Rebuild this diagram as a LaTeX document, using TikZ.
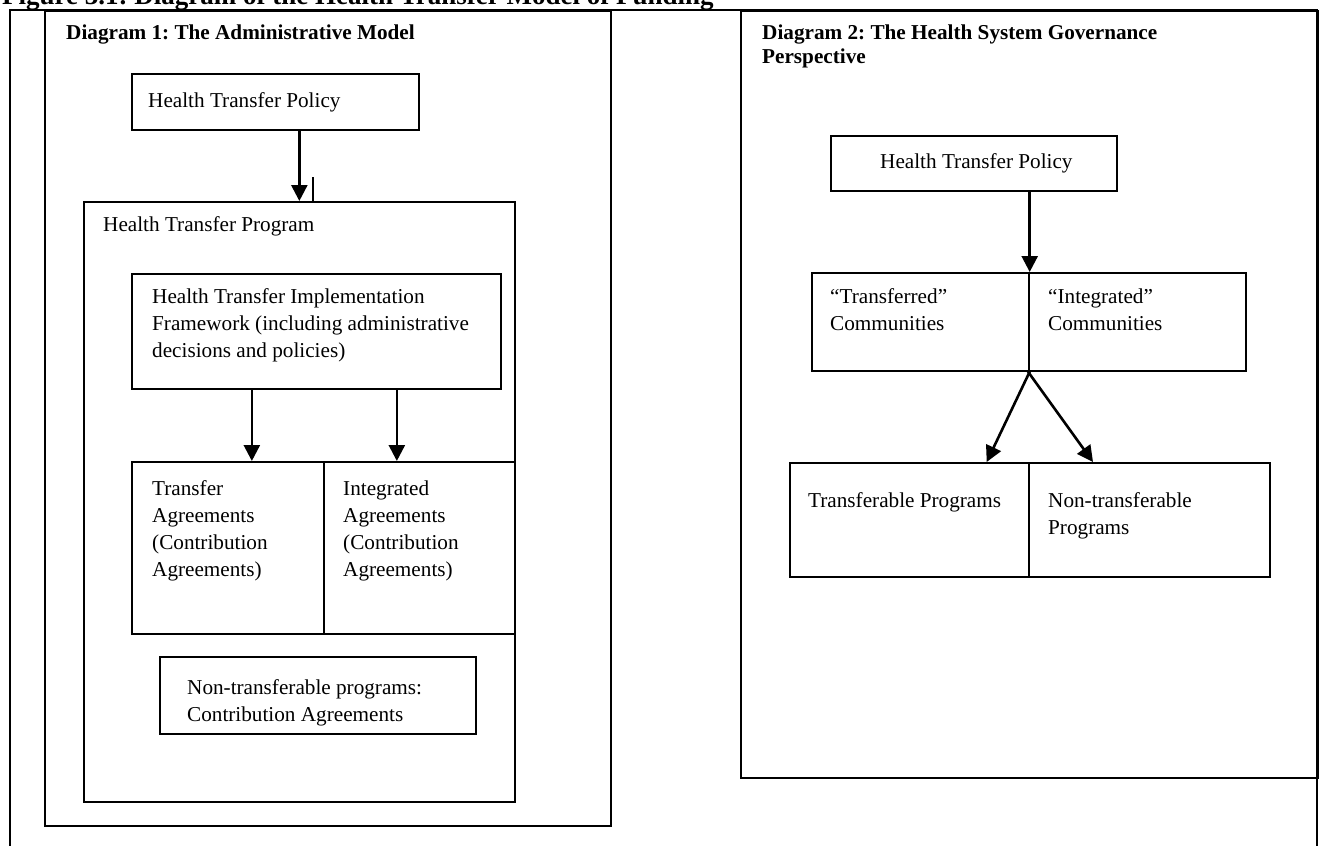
\documentclass[tikz,border=0pt]{standalone}
\usepackage{fontspec}
\setmainfont{Liberation Serif}
\usetikzlibrary{arrows.meta,positioning}
\frenchspacing
\newcommand\txtsize{\fontsize{21.2}{27}\selectfont}
\newcommand\headsize{\fontsize{21.2}{24}\selectfont\bfseries}
\newcommand\titlesize{\fontsize{27}{32}\selectfont\bfseries}

\begin{document}
\begin{tikzpicture}[x=1pt,y=-1pt,
  frame/.style={line width=1.1pt},
  panel/.style={draw,line width=2pt,anchor=north west,inner sep=0pt},
  box/.style={draw,line width=1.7pt,anchor=north west,inner sep=0pt},
  txt/.style={font=\txtsize,align=left,inner sep=0pt,anchor=north west},
  head/.style={font=\headsize,align=left,inner sep=0pt,anchor=north west},
  arr/.style={-{Triangle[length=16pt,width=16pt]},line width=2.6pt}]
  \useasboundingbox (0,0) rectangle (1323,846);
  \fill[white] (0,0) rectangle (1323,846);
  \node[font=\titlesize,inner sep=0pt,anchor=base west] (title) at (2,4)
    {Figure 3.1: Diagram of the Health Transfer Model of Funding};
  % table frame
  \draw[frame] (10,870) -- (10,10) -- (1317,10) -- (1317,870);

  % Diagram 1
  \node[panel,minimum width=566pt,minimum height=815pt] (panelA) at (44,10) {};
  \node[head] (headA) at (66,24.5) {Diagram 1: The Administrative Model};
  \node[box,minimum width=287pt,minimum height=56pt] (policyA) at (131,73) {};
  \node[txt] (policyAtxt) at (148,92.3) {Health Transfer Policy};
  \node[box,minimum width=431pt,minimum height=600pt] (program) at (83,201) {};
  \node[txt] (programtxt) at (103,216.8) {Health Transfer Program};
  \node[box,minimum width=369pt,minimum height=115pt] (framework) at (131,273) {};
  \node[txt] (frameworktxt) at (152,288.3)
    {Health Transfer Implementation\\Framework (including administrative\\decisions and policies)};
  \node[box,minimum width=192pt,minimum height=172pt] (transferA) at (131,461) {};
  \node[box,minimum width=191pt,minimum height=172pt] (integratedA) at (323,461) {};
  \node[txt] (transferAtxt) at (152,480.3) {Transfer\\Agreements\\(Contribution\\Agreements)};
  \node[txt] (integratedAtxt) at (343,480.3) {Integrated\\Agreements\\(Contribution\\Agreements)};
  \node[box,minimum width=316pt,minimum height=77pt] (nontrans) at (159,656) {};
  \node[txt] (nontranstxt) at (187,679.3) {Non-transferable programs:\\Contribution Agreements};
  \coordinate (stub) at (313,177);

  \draw[arr] (policyA.south -| program.north) -- (program.north);
  \draw[line width=2pt] (stub) -- (stub |- program.north);
  \draw[arr] ([xshift=-64.5pt]framework.south) -- ([xshift=-64.5pt]framework.south |- transferA.north);
  \draw[arr] ([xshift=80.5pt]framework.south) -- ([xshift=80.5pt]framework.south |- integratedA.north);

  % Diagram 2
  \node[panel,minimum width=577pt,minimum height=767pt] (panelB) at (740,10) {};
  \node[head] (headB) at (762,24.5) {Diagram 2: The Health System Governance\\Perspective};
  \node[box,minimum width=286pt,minimum height=55pt] (policyB) at (830,135) {};
  \node[txt] (policyBtxt) at (880,153.3) {Health Transfer Policy};
  \node[box,minimum width=217pt,minimum height=98pt] (transferredC) at (811,272) {};
  \node[box,minimum width=217pt,minimum height=98pt] (integratedC) at (1028,272) {};
  \node[txt] (transferredCtxt) at (830,288.3) {“Transferred”\\Communities};
  \node[txt] (integratedCtxt) at (1048,288.3) {“Integrated”\\Communities};
  \node[box,minimum width=239pt,minimum height=114pt] (transferableP) at (789,462) {};
  \node[box,minimum width=241pt,minimum height=114pt] (nontransP) at (1028,462) {};
  \node[txt] (transferablePtxt) at (808,492.3) {Transferable Programs};
  \node[txt] (nontransPtxt) at (1048,492.3) {Non-transferable\\Programs};

  \draw[arr] (policyB.south -| transferredC.north east) -- (transferredC.north east);
  \draw[arr] (transferredC.south east) -- ([xshift=-43pt]transferableP.north east);
  \draw[arr] (integratedC.south west) -- ([xshift=65pt]nontransP.north west);
\end{tikzpicture}
\end{document}
